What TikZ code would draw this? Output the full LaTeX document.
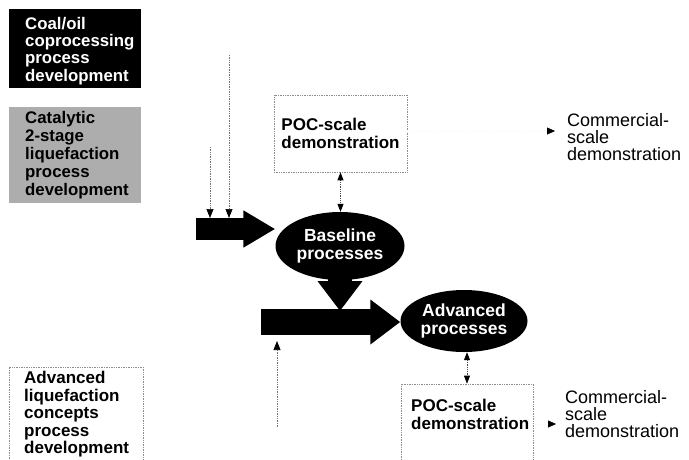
\documentclass[tikz,border=0pt]{standalone}
\usepackage{fontspec}
\setmainfont{Liberation Sans}
\usetikzlibrary{positioning,shapes.geometric,fit,backgrounds,arrows.meta,calc}

\begin{document}
\begin{tikzpicture}[x=1pt,y=-1pt,
  txt/.style={font=\bfseries\fontsize{17}{17.5}\selectfont,align=left,inner sep=0pt},
  plain/.style={font=\fontsize{18}{17}\selectfont,align=left,inner sep=0pt},
  dotbox/.style={draw=black!45,densely dotted,line width=.7pt},
  proc/.style={ellipse,fill=black,text=white,inner sep=0pt,align=center,
    font=\bfseries\fontsize{17.5}{18}\selectfont},
  fat/.style={line width=#1,-{Triangle[length=30pt,width=43pt]}},
  feed/.style={densely dotted,black!55,line width=.7pt,
    -{Triangle[length=9pt,width=7pt,color=black]}},
  link/.style={densely dotted,black!70,line width=.8pt,
    {Triangle[length=8pt,width=6pt,color=black]}-{Triangle[length=8pt,width=6pt,color=black]}},
  faint/.style={black!2,densely dotted,-{Triangle[length=8pt,width=7pt,color=black]}}]
\useasboundingbox (0,0) rectangle (689,459);

% development areas on the left
\node[txt,text=white,font=\bfseries\fontsize{16.8}{17.3}\selectfont,anchor=north west]
  (coaltxt) at (25,17) {Coal/oil\\coprocessing\\process\\development};
\node[txt,font=\bfseries\fontsize{16.8}{18}\selectfont,anchor=north west]
  (cattxt) at (25,111) {Catalytic\\2-stage\\liquefaction\\process\\development};
\node[txt,anchor=north west] (contxt) at (24,371)
  {Advanced\\liquefaction\\concepts\\process\\development};

% the two process stages
\node[proc,minimum width=129pt,minimum height=68pt] (base) at (340,246) {Baseline\\processes};
\node[proc,minimum width=127pt,minimum height=62pt] (adv) at (464,321) {Advanced\\processes};

% demonstrations
\node[dotbox,txt,minimum width=133pt,minimum height=77pt] (pocA) at (340.5,133.5)
  {POC-scale\\demonstration};
\node[dotbox,inner sep=0pt,fit={(401,384) (533,470)}] (pocB) {};
\node[txt,anchor=north west] (pocBtxt) at (411,399) {POC-scale\\demonstration};
\node[plain,anchor=north west] (commA) at (567,113) {Commercial-\\scale\\demonstration};
\node[plain,anchor=north west] (commB) at (565,390) {Commercial-\\scale\\demonstration};

\coordinate (inA) at (196,229);
\coordinate (inB) at (261,322);
\coordinate (join) at (340,311);
\coordinate (srcA) at (210,147);
\coordinate (srcB) at (229,55);
\coordinate (srcC) at (277,427);
\coordinate (tipA) at (555,131);
\coordinate (tipB) at (556,424);

\begin{scope}[on background layer]
\node[fill=black,inner sep=0pt,fit={(9,9) (141,88)}] (coal) {};
\node[fill=black!32,inner sep=0pt,fit={(9,107) (141,203)}] (cat) {};
\node[dotbox,inner sep=0pt,fit={(9,367) (143,470)}] (concept) {};
\draw[fat=22pt,-{Triangle[length=32pt,width=35pt]}] (inA) -- (inA -| base.west);
\draw[fat=26pt] (inB) -- (inB -| adv.west);
\draw[fat=24pt] (base.center) -- (join);
\end{scope}

\draw[feed] (srcA) -- ($(srcA |- inA)+(0,-11)$);
\draw[feed] (srcB) -- ($(srcB |- inA)+(0,-11)$);
\draw[feed] (srcC) -- ($(srcC |- inB)+(0,19)$);
\draw[link] (pocA.south) -- (pocA.south |- base.north);
\draw[link] (adv.south -| pocB.north) -- (pocB.north);
\draw[faint] (pocA.east |- tipA) -- (tipA);
\draw[faint] (pocB.east |- tipB) -- (tipB);
\end{tikzpicture}
\end{document}
